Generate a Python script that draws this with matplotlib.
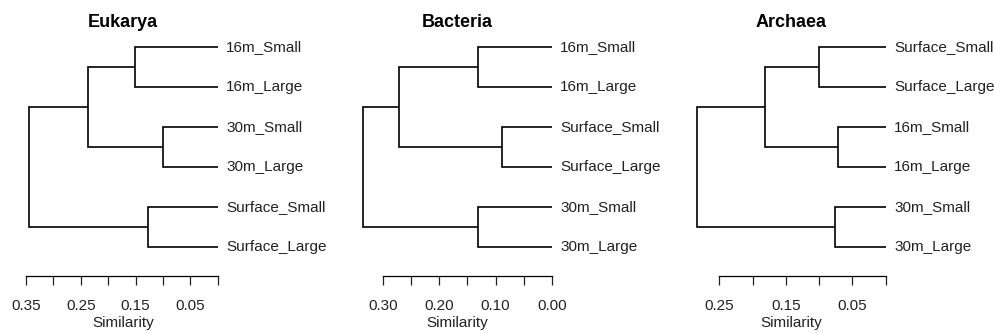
import numpy as np
import matplotlib.pyplot as plt
from matplotlib.transforms import blended_transform_factory

plt.rcParams['font.family'] = ['Liberation Sans', 'DejaVu Sans']

titles = ["Eukarya", "Bacteria", "Archaea"]
leaves = [
    ["16m_Small", "16m_Large", "30m_Small", "30m_Large", "Surface_Small", "Surface_Large"],
    ["16m_Small", "16m_Large", "Surface_Small", "Surface_Large", "30m_Small", "30m_Large"],
    ["Surface_Small", "Surface_Large", "16m_Small", "16m_Large", "30m_Small", "30m_Large"],
]
# merge heights: the three leaf pairs, the join of the first two pairs, the root
pair_heights = [
    [0.152, 0.100, 0.127],
    [0.132, 0.089, 0.132],
    [0.101, 0.072, 0.077],
]
join_heights = [0.237, 0.271, 0.181]
root_heights = [0.345, 0.336, 0.284]
tick_tops = [0.35, 0.30, 0.25]

W, H = 995, 333
fig = plt.figure(figsize=(W / 100, H / 100), dpi=100)

lefts = [21.3, 355.3, 689.3]
ax_w, ax_top, ax_bot = 204, 38.7, 254.7


def link(ax, h, ya, ha, yb, hb):
    ax.plot([ha, h, h, hb], [ya, ya, yb, yb], color="black", lw=1.2,
            solid_joinstyle="miter", solid_capstyle="butt")


for i in range(3):
    ax = fig.add_axes([lefts[i] / W, 1 - ax_bot / H, ax_w / W, (ax_bot - ax_top) / H])
    root = root_heights[i]
    ph = pair_heights[i]

    # leaf pairs
    for k in range(3):
        link(ax, ph[k], 2 * k + 1, 0, 2 * k + 2, 0)
    link(ax, join_heights[i], 1.5, ph[0], 3.5, ph[1])
    link(ax, root, 2.5, join_heights[i], 5.5, ph[2])

    ax.set_xlim(root * 1.04, -root * 0.04)
    ax.set_ylim(6.2, 0.8)

    trans = blended_transform_factory(ax.transAxes, ax.transData)
    for j, lab in enumerate(leaves[i]):
        ax.text(1.005, j + 1, lab, transform=trans, ha="left", va="center",
                fontsize=11, color="#222222")

    ticks = np.round(np.arange(tick_tops[i], -0.001, -0.05), 2)
    ax.set_xticks(ticks)
    ax.set_xticklabels([f"{t:.2f}" if n % 2 == 0 else "" for n, t in enumerate(ticks)])
    ax.tick_params(axis="x", length=6.5, width=0.9, direction="out", pad=10,
                   labelsize=11, colors="#222222")
    ax.set_yticks([])
    for s in ["top", "right", "left"]:
        ax.spines[s].set_visible(False)
    ax.spines["bottom"].set_position(("outward", 15.3))
    ax.spines["bottom"].set_bounds(0, tick_tops[i])
    ax.spines["bottom"].set_linewidth(0.9)
    ax.patch.set_visible(False)

    ax.set_title(titles[i], fontsize=13, fontweight="bold", pad=8.5)
    ax.set_xlabel("Similarity", fontsize=11, labelpad=2.5, color="#222222")

fig.savefig("out.png", dpi=100)
